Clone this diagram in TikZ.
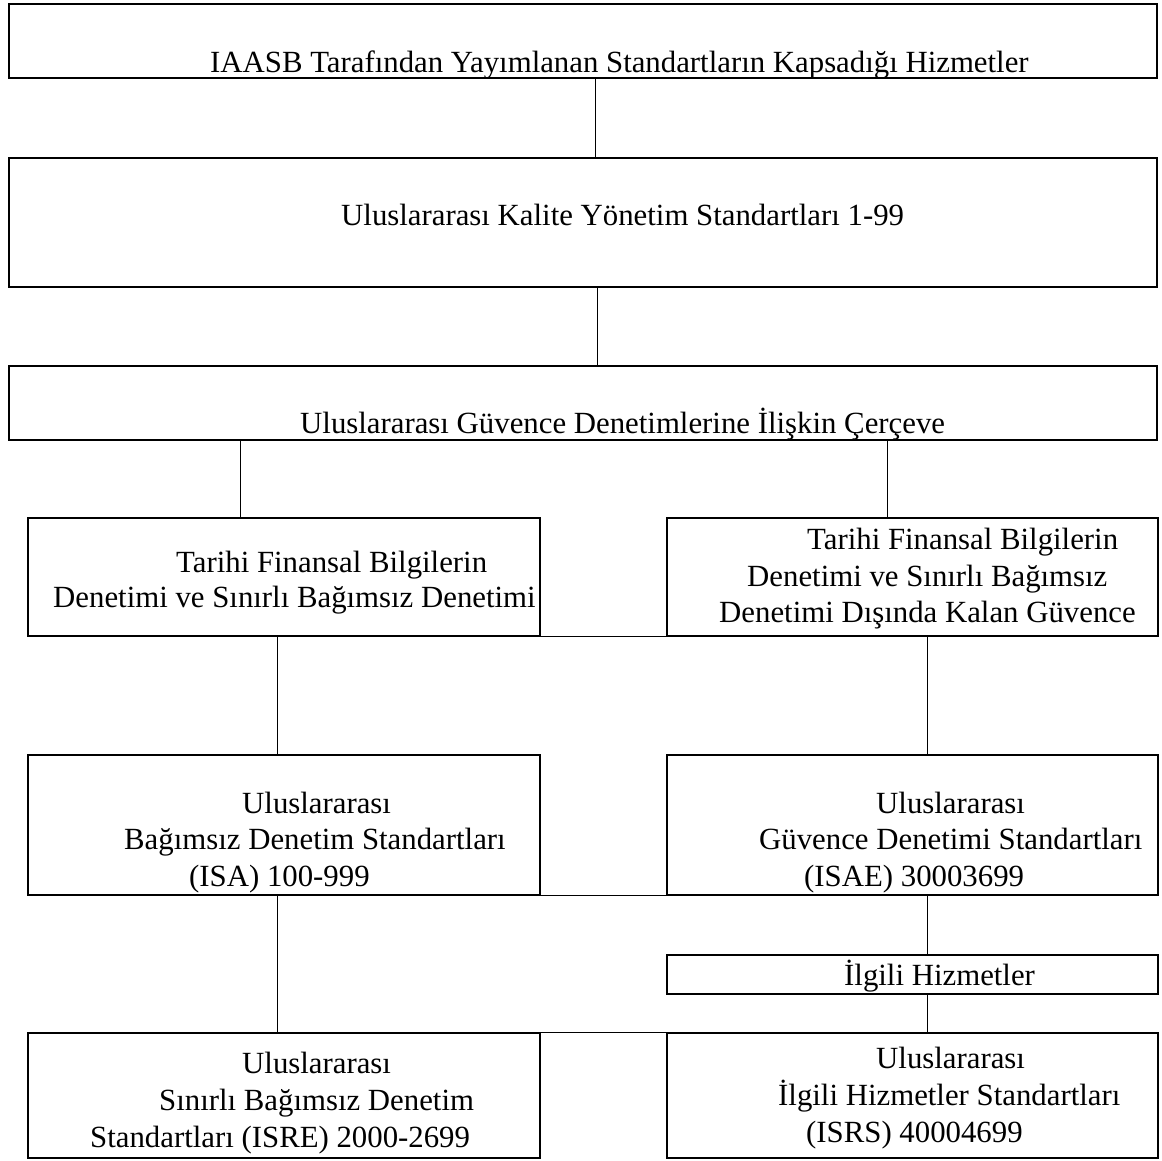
\documentclass[tikz,border=0pt]{standalone}
\usepackage{fontspec}
\setmainfont{Liberation Serif}
\usepackage{tikz}

\tikzset{
  box/.style={draw, line width=1.2pt, inner sep=0pt},
  txt/.style={anchor=base west, inner sep=0pt},
  link/.style={line width=0.9pt},
  rule/.style={line width=1.2pt}
}

\begin{document}
\begin{tikzpicture}[x=1pt,y=-1pt,font=\fontsize{30.8}{37}\selectfont]
  \useasboundingbox (0,0) rectangle (1162,1160);
  % boxes
  \node[box, minimum width=1148pt, minimum height=74pt]  (hizmet)  at (583,41) {};
  \node[box, minimum width=1148pt, minimum height=129pt] (kalite)  at (583,222.5) {};
  \node[box, minimum width=1148pt, minimum height=74pt]  (cerceve) at (583,403) {};
  \node[box, minimum width=512pt, minimum height=118pt]  (tfbL)    at (284,577) {};
  \node[box, minimum width=491pt, minimum height=118pt]  (tfbR)    at (912.5,577) {};
  \node[box, minimum width=512pt, minimum height=140pt]  (isa)     at (284,825) {};
  \node[box, minimum width=491pt, minimum height=140pt]  (isae)    at (912.5,825) {};
  \node[box, minimum width=491pt, minimum height=39pt]   (ilgili)  at (912.5,974.5) {};
  \node[box, minimum width=512pt, minimum height=125pt]  (isre)    at (284,1095.5) {};
  \node[box, minimum width=491pt, minimum height=125pt]  (isrs)    at (912.5,1095.5) {};

  % texts
  \node[txt] (t1) at (210,72) {IAASB Tarafından Yayımlanan Standartların Kapsadığı Hizmetler};
  \node[txt] (t2) at (341,225) {Uluslararası Kalite Yönetim Standartları 1-99};
  \node[txt] (t3) at (300,433) {Uluslararası Güvence Denetimlerine İlişkin Çerçeve};
  \node[txt] (t4a) at (176,572) {Tarihi Finansal Bilgilerin};
  \node[txt] (t4b) at (53,607) {Denetimi ve Sınırlı Bağımsız Denetimi};
  \node[txt] (t5a) at (807,549) {Tarihi Finansal Bilgilerin};
  \node[txt] (t5b) at (747,586) {Denetimi ve Sınırlı Bağımsız};
  \node[txt] (t5c) at (719,622) {Denetimi Dışında Kalan Güvence};
  \node[txt] (t6a) at (242,813) {Uluslararası};
  \node[txt] (t6b) at (124,849) {Bağımsız Denetim Standartları};
  \node[txt] (t6c) at (189,886) {(ISA) 100-999};
  \node[txt] (t7a) at (876,813) {Uluslararası};
  \node[txt] (t7b) at (759,849) {Güvence Denetimi Standartları};
  \node[txt] (t7c) at (804,886) {(ISAE) 30003699};
  \node[txt] (t8) at (844,985) {İlgili Hizmetler};
  \node[txt] (t9a) at (242,1073) {Uluslararası};
  \node[txt] (t9b) at (159,1110) {Sınırlı Bağımsız Denetim};
  \node[txt] (t9c) at (90,1147) {Standartları (ISRE) 2000-2699};
  \node[txt] (t10a) at (876,1068) {Uluslararası};
  \node[txt] (t10b) at (778,1105) {İlgili Hizmetler Standartları};
  \node[txt] (t10c) at (806,1142) {(ISRS) 40004699};

  % connectors
  \draw[link] ([xshift=12pt]hizmet.south) -- ([xshift=12pt]kalite.north);
  \draw[link] ([xshift=14pt]kalite.south) -- ([xshift=14pt]cerceve.north);
  \draw[link] ([xshift=-343pt]cerceve.south) -- ([xshift=-44pt]tfbL.north);
  \draw[link] ([xshift=304pt]cerceve.south) -- ([xshift=-25.5pt]tfbR.north);
  \draw[link] ([xshift=-7pt]tfbL.south) -- ([xshift=-7pt]isa.north);
  \draw[link] ([xshift=14.5pt]tfbR.south) -- ([xshift=14.5pt]isae.north);
  \draw[link] ([xshift=-7pt]isa.south) -- ([xshift=-7pt]isre.north);
  \draw[link] ([xshift=14.5pt]isae.south) -- ([xshift=14.5pt]ilgili.north);
  \draw[link] ([xshift=14.5pt]ilgili.south) -- ([xshift=14.5pt]isrs.north);
  % rules across the gaps
  \draw[rule] (tfbL.south east) -- (tfbR.south west);
  \draw[rule] (isa.south east) -- (isae.south west);
  \draw[rule] (isre.north east) -- (isrs.north west);
\end{tikzpicture}
\end{document}
